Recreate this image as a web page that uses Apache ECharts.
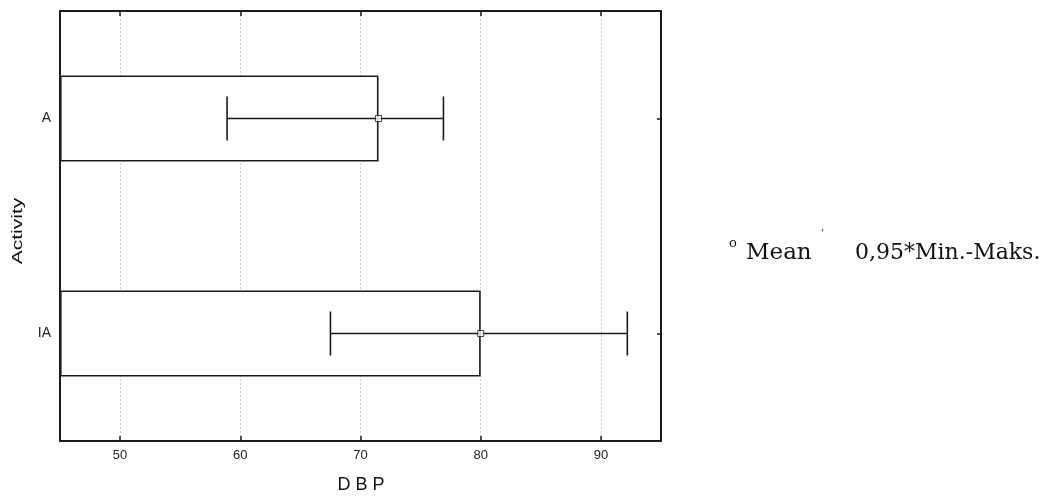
<!DOCTYPE html>
<html>
<head>
<meta charset="utf-8">
<script src="https://cdn.jsdelivr.net/npm/echarts@6/dist/echarts.min.js"></script>
<style>html,body{margin:0;padding:0;background:#fff}#c{width:1053px;height:497px}</style>
</head>
<body>
<div id="c"></div>
<script>
const categories = ['A', 'IA'];
const means = [71.5, 80.0];
const mins = [58.9, 67.5];
const maxs = [76.9, 92.2];
const xTicks = [50, 60, 70, 80, 90];
const xMin = 45, xMax = 95;

const chart = echarts.init(document.getElementById('c'), null, {renderer: 'canvas'});
const ink = '#1a1a1a';
const sans = 'Liberation Sans, Arial, sans-serif';
const serif = 'DejaVu Serif, serif';

const errData = categories.map((c, i) => [i, mins[i], maxs[i]]);

const option = {
  animation: false,
  backgroundColor: '#fff',
  grid: {left: 60, right: 392, top: 11, bottom: 56, containLabel: false},
  xAxis: [{
    type: 'value', min: xMin, max: xMax, startValue: xMin, position: 'bottom',
    axisLine: {show: true, onZero: false, lineStyle: {color: ink, width: 2}},
    axisTick: {show: true, inside: true, length: 5, customValues: xTicks, lineStyle: {color: ink, width: 1.5}},
    axisLabel: {show: true, customValues: xTicks, color: '#222', fontSize: 13, fontFamily: sans, margin: 8},
    splitLine: {show: true, lineStyle: {color: '#c8c8c8', type: [2, 2], width: 1}}
  }, {
    type: 'value', min: xMin, max: xMax, position: 'top',
    axisLine: {show: true, onZero: false, lineStyle: {color: ink, width: 2}},
    axisTick: {show: true, inside: true, length: 5, customValues: xTicks, lineStyle: {color: ink, width: 1.5}},
    axisLabel: {show: false},
    splitLine: {show: false}
  }],
  yAxis: [{
    type: 'category', data: categories, inverse: true, position: 'left',
    axisLine: {show: true, onZero: false, lineStyle: {color: ink, width: 2}},
    axisTick: {show: true, inside: true, alignWithLabel: true, length: 4, lineStyle: {color: ink, width: 1.5}},
    axisLabel: {show: true, color: '#222', fontSize: 14, fontFamily: sans, margin: 9},
    splitLine: {show: false}
  }, {
    type: 'category', data: categories, inverse: true, position: 'right',
    axisLine: {show: true, onZero: false, lineStyle: {color: ink, width: 2}},
    axisTick: {show: true, inside: true, alignWithLabel: true, length: 4, lineStyle: {color: ink, width: 1.5}},
    axisLabel: {show: false},
    splitLine: {show: false}
  }],
  series: [{
    type: 'bar', name: 'Mean bar', xAxisIndex: 0, yAxisIndex: 0,
    data: means, barWidth: '40%', clip: true,
    itemStyle: {color: '#fff', borderColor: ink, borderWidth: 1.6},
    z: 2
  }, {
    type: 'custom', name: '0,95*Min.-Maks.', xAxisIndex: 0, yAxisIndex: 0,
    data: errData, z: 3,
    renderItem: function (params, api) {
      const idx = api.value(0);
      const lo = api.coord([api.value(1), idx]);
      const hi = api.coord([api.value(2), idx]);
      const h = 22;
      const st = {stroke: ink, lineWidth: 1.6, fill: 'none'};
      return {type: 'group', children: [
        {type: 'line', shape: {x1: lo[0], y1: lo[1], x2: hi[0], y2: hi[1]}, style: st},
        {type: 'line', shape: {x1: lo[0], y1: lo[1] - h, x2: lo[0], y2: lo[1] + h}, style: st},
        {type: 'line', shape: {x1: hi[0], y1: hi[1] - h, x2: hi[0], y2: hi[1] + h}, style: st}
      ]};
    }
  }, {
    type: 'scatter', name: 'Mean', xAxisIndex: 0, yAxisIndex: 0,
    data: means.map((m, i) => [m, i]), symbol: 'rect', symbolSize: 6,
    itemStyle: {color: '#fff', borderColor: ink, borderWidth: 1}, z: 5
  }],
  graphic: [
    {type: 'text', x: 18, y: 231, rotation: Math.PI / 2, scaleX: 1.4,
     style: {text: 'Activity', fontSize: 15, fontFamily: sans, fill: '#111', textAlign: 'center', textVerticalAlign: 'middle'}},
    {type: 'text', x: 361, y: 485,
     style: {text: 'D B P', fontSize: 18, fontFamily: sans, fill: '#111', textAlign: 'center', textVerticalAlign: 'middle'}},
    {type: 'text', x: 729, y: 244,
     style: {text: 'o', fontSize: 13, fontFamily: serif, fill: '#111', textAlign: 'left', textVerticalAlign: 'middle'}},
    {type: 'text', x: 746, y: 253,
     style: {text: 'Mean', fontSize: 23, fontFamily: serif, fill: '#111', textAlign: 'left', textVerticalAlign: 'middle'}},
    {type: 'text', x: 821, y: 233,
     style: {text: "'", fontSize: 10, fontFamily: serif, fill: '#111', textAlign: 'left', textVerticalAlign: 'middle'}},
    {type: 'text', x: 855, y: 253,
     style: {text: '0,95*Min.-Maks.', fontSize: 22, fontFamily: serif, fill: '#111', textAlign: 'left', textVerticalAlign: 'middle'}}
  ]
};
chart.setOption(option);
</script>
</body>
</html>
